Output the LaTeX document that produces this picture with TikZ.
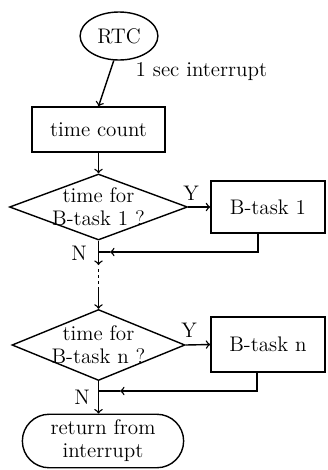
\documentclass[tikz,border=0pt]{standalone}
\usepackage{tikz}
\usetikzlibrary{shapes.geometric,shapes.misc}

\begin{document}
\begin{tikzpicture}[thick,font=\fontsize{12}{13}\selectfont,
  box/.style={draw,rectangle,minimum width=2.28cm},
  test/.style={draw,diamond,aspect=2.7,inner sep=-4pt,align=center}]
\useasboundingbox (0,0) rectangle (6.54,-9.4);
\node[draw,ellipse,minimum width=1.48cm,minimum height=0.96cm] (rtc) at (2.38,-0.72) {RTC};
\node[box,minimum width=2.66cm,minimum height=0.9cm] (cnt) at (1.97,-2.59) {time count};
\node[test,minimum width=3.56cm,minimum height=1.32cm] (d1) at (1.97,-4.14) {time for\\B-task 1 ?};
\node[box,minimum height=1.04cm] (t1) at (5.36,-4.14) {B-task 1};
\node[test,minimum width=3.46cm,minimum height=1.42cm] (dn) at (1.97,-6.9) {time for\\B-task n ?};
\node[box,minimum height=1.1cm] (tn) at (5.36,-6.89) {B-task n};
\node[draw,rounded rectangle,minimum width=3.46cm,minimum height=1.04cm,align=center] (ret) at (2.06,-8.82) {return from\\interrupt};
\node[anchor=west,inner sep=0pt] (lbl) at (2.7,-1.44) {1 sec interrupt};
\node (y1) at (3.82,-3.86) {Y};
\node (y2) at (3.78,-6.6) {Y};
\node (n1) at (1.58,-5.06) {N};
\node (n2) at (1.64,-7.94) {N};
\coordinate (j1) at (1.97,-5.04);
\coordinate (a1) at (2.2,-5.04);
\coordinate (jn) at (1.97,-7.82);
\coordinate (an) at (2.4,-7.82);
\coordinate (m1) at (1.97,-5.3);
\coordinate (m2) at (1.97,-5.38);
\coordinate (m3) at (1.97,-5.8);
\draw[->] (rtc.-102) -- (cnt.north);
\draw[->] (cnt.south) -- (d1.north);
\draw[->] (d1.east) -- (t1.west);
\draw[->] ([xshift=-0.2cm]t1.south) |- (a1);
\draw (a1) -- (j1);
\draw[->] (d1.south) -- (m1);
\draw[dash pattern=on 1.5pt off 2pt] (m2) -- (m3);
\draw[->] (m3) -- (dn.north);
\draw[->] (dn.east) -- (tn.west);
\draw[->] ([xshift=-0.22cm]tn.south) |- (an);
\draw (an) -- (jn);
\draw[->] (dn.south) -- (dn.south |- ret.north);
\end{tikzpicture}
\end{document}
